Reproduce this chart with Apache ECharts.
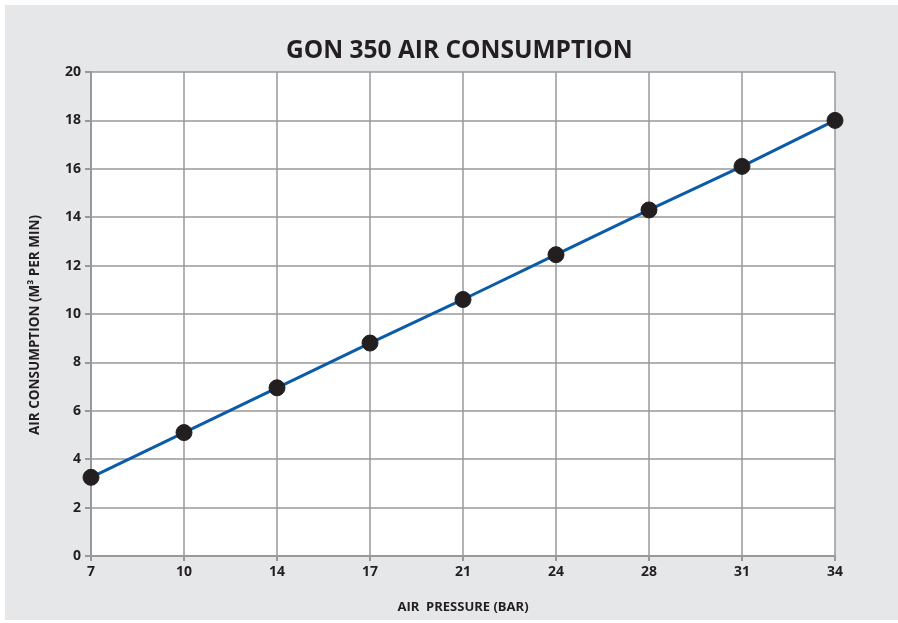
<!DOCTYPE html>
<html><head><meta charset="utf-8">
<script src="https://cdn.jsdelivr.net/npm/echarts@6/dist/echarts.min.js"></script>
<style>
html,body{margin:0;padding:0;background:#fff;}
#c{position:absolute;left:5px;top:5px;width:893px;height:615px;background:#e6e7e9;}
</style></head><body>
<div id="c"></div>
<script>
const categories = ['7','10','14','17','21','24','28','31','34'];
const consumption = [3.25, 5.1, 6.95, 8.8, 10.6, 12.45, 14.3, 16.1, 18.0];
const yTicks = [0, 2, 4, 6, 8, 10, 12, 14, 16, 18, 20];

const chart = echarts.init(document.getElementById('c'));
const font = '"Open Sans", "Noto Sans", sans-serif';
chart.setOption({
  backgroundColor: '#e6e7e9',
  title: {
    text: 'GON 350 AIR CONSUMPTION',
    left: 276, top: 29,
    textStyle: {fontFamily: font, fontWeight: 'bold', fontSize: 24.5, color: '#231f20'}
  },
  grid: {left: 86, top: 67, right: 63, bottom: 64, backgroundColor: '#fff', show: true, borderWidth: 0},
  xAxis: {
    type: 'category', data: categories, boundaryGap: false,
    name: 'AIR  PRESSURE (BAR)', nameLocation: 'middle', nameGap: 45,
    nameTextStyle: {fontFamily: font, fontWeight: 'bold', fontSize: 13, color: '#231f20'},
    axisLine: {lineStyle: {color: '#999', width: 2}},
    axisTick: {show: true, length: 5, lineStyle: {color: '#999', width: 2}},
    axisLabel: {fontFamily: font, fontWeight: 'bold', fontSize: 14, color: '#231f20', margin: 9},
    splitLine: {show: true, lineStyle: {color: '#999', width: 1.5}}
  },
  yAxis: {
    type: 'value', min: yTicks[0], max: yTicks[yTicks.length-1], interval: 2,
    name: 'AIR CONSUMPTION (M³ PER MIN)', nameLocation: 'middle', nameGap: 49, nameRotate: 90,
    nameTextStyle: {fontFamily: font, fontWeight: 'bold', fontSize: 13.5, color: '#231f20', padding: [0, 22, 0, 0]},
    axisLine: {show: true, lineStyle: {color: '#999', width: 2}},
    axisTick: {show: true, length: 6, lineStyle: {color: '#999', width: 2}},
    axisLabel: {fontFamily: font, fontWeight: 'bold', fontSize: 14, color: '#231f20', margin: 10},
    splitLine: {show: true, lineStyle: {color: '#999', width: 1.5}}
  },
  series: [{
    type: 'line', data: consumption,
    symbol: 'circle', symbolSize: 16,
    lineStyle: {color: '#0a5ca8', width: 3},
    itemStyle: {color: '#231f20', borderColor: '#231f20'},
    animation: false, z: 3
  }]
});
</script>
</body></html>
